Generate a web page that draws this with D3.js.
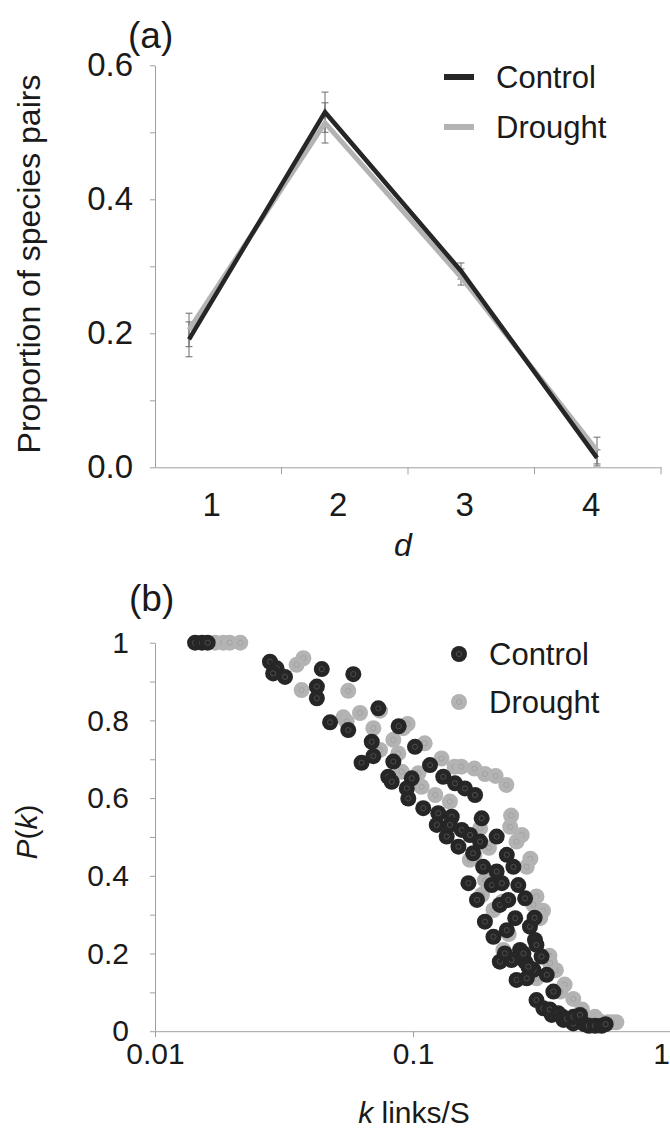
<!DOCTYPE html>
<html><head><meta charset="utf-8">
<script src="https://cdn.jsdelivr.net/npm/d3@7"></script>
<style>
body{margin:0;background:#fff}
svg{display:block}
text{font-family:"Liberation Sans",Arial,sans-serif;fill:#1a1a1a}
</style>
</head><body>
<svg id="chart" width="670" height="1137"></svg>
<script>
// ---------- Panel (a) data ----------
const dCategories = [1, 2, 3, 4];
const controlProportion = [0.191, 0.530, 0.293, 0.014];
const controlError      = [0.026, 0.030, 0.012, 0.012];
const droughtProportion = [0.205, 0.514, 0.284, 0.025];
const droughtError      = [0.025, 0.030, 0.012, 0.020];
const proportionTicks   = [0, 0.1, 0.2, 0.3, 0.4, 0.5, 0.6];
const proportionLabels  = ["0.0", "", "0.2", "", "0.4", "", "0.6"];

// ---------- Panel (b) data ----------
const controlK = [0.0143,0.0152,0.0160,0.0279,0.0296,0.0287,0.0319,0.0443,0.0424,0.0424,
  0.0587,0.0477,0.0561,0.0692,0.0632,0.0702,0.0880,0.0734,0.1018,0.0839,
  0.0802,0.0827,0.1164,0.0989,0.0946,0.0959,0.131,0.1455,0.159,0.174,
  0.1096,0.1253,0.1413,0.1236,0.1351,0.1545,0.1663,0.1846,0.211,0.150,
  0.139,0.171,0.182,0.187,0.211,0.231,0.245,0.164,0.202,0.221,
  0.256,0.177,0.217,0.234,0.272,0.249,0.190,0.231,0.284,0.205,
  0.297,0.301,0.260,0.315,0.217,0.241,0.272,0.293,0.330,0.252,
  0.276,0.350,0.301,0.320,0.345,0.383,0.418,0.296,0.227,0.268,
  0.280,0.339,0.366,0.380,0.395,0.419,0.444,0.461,0.480,0.508,0.538,0.558];
const controlP = [1.0,1.0,1.0,0.951,0.934,0.921,0.912,0.932,0.887,0.857,
  0.919,0.795,0.775,0.745,0.691,0.708,0.785,0.831,0.732,0.694,
  0.655,0.642,0.685,0.651,0.625,0.599,0.655,0.638,0.625,0.608,
  0.574,0.561,0.552,0.531,0.501,0.518,0.505,0.548,0.501,0.475,
  0.531,0.458,0.488,0.423,0.411,0.454,0.423,0.381,0.376,0.381,
  0.376,0.338,0.325,0.338,0.342,0.291,0.282,0.260,0.269,0.243,
  0.235,0.222,0.209,0.192,0.179,0.183,0.179,0.158,0.145,0.132,
  0.136,0.102,0.080,0.059,0.042,0.029,0.020,0.292,0.200,0.200,
  0.166,0.056,0.046,0.037,0.032,0.037,0.042,0.018,0.014,0.014,0.014,0.018];

const droughtK = [0.0171,0.0184,0.0195,0.0214,0.0376,0.0354,0.0370,0.0561,0.0537,0.0623,
  0.0553,0.0702,0.0917,0.0839,0.111,0.0745,0.0877,0.129,0.0904,0.105,
  0.145,0.154,0.173,0.190,0.209,0.230,0.108,0.122,0.139,0.240,
  0.0953,0.0745,0.264,0.285,0.301,0.319,0.197,0.173,0.190,0.222,
  0.235,0.338,0.358,0.387,0.418,0.452,0.507,0.569,0.614,0.252,
  0.276,0.166,0.293,0.311,0.185,0.205,0.238,0.182,0.224,0.340,
  0.372,0.301,0.485,0.530,0.590];
const droughtP = [1.0,1.0,1.0,1.0,0.960,0.943,0.878,0.876,0.808,0.819,
  0.797,0.780,0.780,0.750,0.741,0.724,0.715,0.702,0.668,0.664,
  0.681,0.681,0.676,0.662,0.657,0.634,0.629,0.608,0.591,0.555,
  0.791,0.825,0.505,0.444,0.347,0.310,0.472,0.454,0.389,0.333,
  0.250,0.194,0.157,0.120,0.083,0.056,0.037,0.023,0.023,0.488,
  0.423,0.441,0.325,0.291,0.351,0.312,0.526,0.522,0.209,0.175,
  0.102,0.136,0.029,0.025,0.023];
const pTicks  = [0,0.1,0.2,0.3,0.4,0.5,0.6,0.7,0.8,0.9,1];
const pLabels = ["0","","0.2","","0.4","","0.6","","0.8","","1"];
const kTicks  = [0.01, 0.1, 1];
const kLabels = ["0.01", "0.1", "1"];

const dark = "#262626", gray = "#b3b3b3", axisCol = "#a0a0a0";
const svg = d3.select("#chart");

function styleAxis(g) {
  g.selectAll("path.domain").attr("stroke", axisCol).attr("stroke-width", 1);
  g.selectAll(".tick line").attr("stroke", axisCol).attr("stroke-width", 1);
  g.selectAll("text").attr("fill", "#1a1a1a").attr("font-family", "Liberation Sans, Arial, sans-serif");
}

// ================= Panel (a) =================
const xaBand = d3.scaleBand().domain(dCategories).range([155, 661]);
const xaPt = d3.scalePoint().domain(dCategories).range([189, 597]);
const ya = d3.scaleLinear().domain([0, 0.6]).range([467.3, 65.3]);

const gya = svg.append("g").attr("transform", "translate(155,0)")
  .call(d3.axisLeft(ya).tickValues(proportionTicks).tickSize(5).tickSizeOuter(0).tickPadding(17)
    .tickFormat((d, i) => proportionLabels[i]));
gya.selectAll("text").attr("font-size", 33);
styleAxis(gya);

const gxa = svg.append("g").attr("transform", "translate(0,467.3)")
  .call(d3.axisBottom(xaBand).tickSize(0).tickSizeOuter(0).tickPadding(25));
gxa.selectAll("text").attr("font-size", 33).attr("dx", "-0.2em");
styleAxis(gxa);
gxa.selectAll(".boundary").data(dCategories).join("line")
  .attr("x1", d => xaBand(d) + xaBand.bandwidth()).attr("x2", d => xaBand(d) + xaBand.bandwidth())
  .attr("y1", 0).attr("y2", 7).attr("stroke", axisCol);

// error bars
const errSeries = [
  {v: droughtProportion, e: droughtError},
  {v: controlProportion, e: controlError}
];
errSeries.forEach(s => {
  const g = svg.append("g").attr("stroke", "#6a6a6a").attr("stroke-width", 1);
  dCategories.forEach((d, i) => {
    const x = xaPt(d), y1 = ya(s.v[i] - s.e[i]), y2 = ya(s.v[i] + s.e[i]);
    g.append("line").attr("x1", x).attr("x2", x).attr("y1", y1).attr("y2", y2);
    g.append("line").attr("x1", x - 3.5).attr("x2", x + 3.5).attr("y1", y1).attr("y2", y1);
    g.append("line").attr("x1", x - 3.5).attr("x2", x + 3.5).attr("y1", y2).attr("y2", y2);
  });
});

const lineA = d3.line().x((d, i) => xaPt(dCategories[i])).y(d => ya(d));
svg.append("path").attr("d", lineA(droughtProportion)).attr("fill", "none")
  .attr("stroke", gray).attr("stroke-width", 5).attr("stroke-linejoin", "miter");
svg.append("path").attr("d", lineA(controlProportion)).attr("fill", "none")
  .attr("stroke", dark).attr("stroke-width", 4.5).attr("stroke-linejoin", "miter");

// titles
svg.append("text").attr("x", 128).attr("y", 48).attr("font-size", 37).text("(a)");
svg.append("text").attr("transform", "translate(40,264) rotate(-90)").attr("text-anchor", "middle")
  .attr("font-size", 32).text("Proportion of species pairs");
svg.append("text").attr("x", 403).attr("y", 556).attr("text-anchor", "middle")
  .attr("font-size", 32).attr("font-style", "italic").text("d");

// legend (a)
const legA = [{name: "Control", c: dark, y: 77}, {name: "Drought", c: gray, y: 127}];
legA.forEach(l => {
  svg.append("line").attr("x1", 444).attr("x2", 474).attr("y1", l.y).attr("y2", l.y)
    .attr("stroke", l.c).attr("stroke-width", 6);
  svg.append("text").attr("x", 496).attr("y", l.y + 11).attr("font-size", 31).text(l.name);
});

// ================= Panel (b) =================
const xb = d3.scaleLog().domain([0.01, 1]).range([155, 671]);
const yb = d3.scaleLinear().domain([0, 1]).range([1031.2, 642.7]);

const gyb = svg.append("g").attr("transform", "translate(155,0)")
  .call(d3.axisLeft(yb).tickValues(pTicks).tickSize(5).tickSizeOuter(0).tickPadding(21)
    .tickFormat((d, i) => pLabels[i]));
gyb.selectAll("text").attr("font-size", 30);
styleAxis(gyb);

const gxb = svg.append("g").attr("transform", "translate(0,1031.2)")
  .call(d3.axisBottom(xb).tickValues(kTicks).tickSize(6).tickSizeOuter(0).tickPadding(6)
    .tickFormat((d, i) => kLabels[i]));
gxb.selectAll("text").attr("font-size", 30);
// keep the last label ("1") inside the frame, as in the reference
gxb.selectAll(".tick text").filter((d, i) => i === kTicks.length - 1).attr("dx", -10);
styleAxis(gxb);

function marker(g, x, y, fill, ring) {
  g.append("circle").attr("cx", x).attr("cy", y).attr("r", 8).attr("fill", fill);
  g.append("circle").attr("cx", x).attr("cy", y).attr("r", 2.6).attr("fill", "none")
    .attr("stroke", ring).attr("stroke-width", 1);
}
const gD = svg.append("g");
droughtK.forEach((k, i) => marker(gD, xb(k), yb(droughtP[i]), gray, "#a2a2a2"));
const gC = svg.append("g");
controlK.forEach((k, i) => marker(gC, xb(k), yb(controlP[i]), dark, "#4d4d4d"));

svg.append("text").attr("x", 129).attr("y", 611).attr("font-size", 37).text("(b)");
const pt = svg.append("text").attr("transform", "translate(37,832) rotate(-90)")
  .attr("text-anchor", "middle").attr("font-size", 30);
pt.append("tspan").attr("font-style", "italic").text("P");
pt.append("tspan").text("(");
pt.append("tspan").attr("font-style", "italic").text("k");
pt.append("tspan").text(")");
const kt = svg.append("text").attr("x", 414).attr("y", 1123).attr("text-anchor", "middle").attr("font-size", 30);
kt.append("tspan").attr("font-style", "italic").text("k");
kt.append("tspan").text(" links/S");

// legend (b)
const legB = [{name: "Control", c: dark, r: "#4d4d4d", y: 654}, {name: "Drought", c: gray, r: "#a2a2a2", y: 702}];
legB.forEach(l => {
  marker(svg.append("g"), 459, l.y, l.c, l.r);
  svg.append("text").attr("x", 489).attr("y", l.y + 11).attr("font-size", 31).text(l.name);
});
</script>
</body></html>
